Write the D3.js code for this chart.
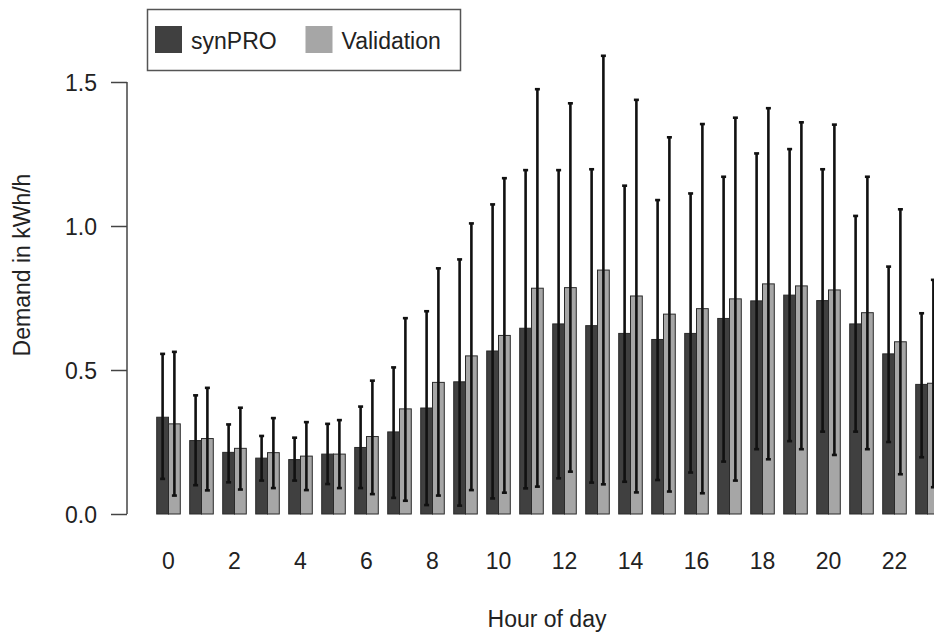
<!DOCTYPE html>
<html><head><meta charset="utf-8">
<script src="https://cdn.jsdelivr.net/npm/d3@7"></script>
<style>html,body{margin:0;padding:0;background:#fff;overflow:hidden}</style>
</head><body>
<svg id="c" width="934" height="632"></svg>
<script>
const hours = d3.range(0, 24);
const seriesNames = ["synPRO", "Validation"];
const synMean = [0.336,0.255,0.214,0.194,0.189,0.208,0.231,0.285,0.368,0.459,0.566,0.645,0.660,0.654,0.627,0.606,0.627,0.679,0.740,0.760,0.741,0.660,0.556,0.450];
const synLow  = [0.122,0.100,0.110,0.116,0.116,0.104,0.090,0.056,0.031,0.029,0.054,0.089,0.124,0.109,0.112,0.118,0.144,0.182,0.225,0.253,0.286,0.286,0.250,0.197];
const synHigh = [0.556,0.412,0.311,0.271,0.265,0.313,0.373,0.509,0.704,0.884,1.075,1.194,1.194,1.197,1.140,1.090,1.113,1.171,1.252,1.267,1.197,1.035,0.859,0.697];
const valMean = [0.313,0.262,0.228,0.213,0.201,0.208,0.269,0.365,0.457,0.549,0.620,0.784,0.786,0.847,0.757,0.694,0.713,0.747,0.799,0.792,0.778,0.699,0.598,0.454];
const valLow  = [0.064,0.082,0.085,0.090,0.083,0.090,0.069,0.046,0.064,0.083,0.074,0.095,0.147,0.103,0.075,0.078,0.072,0.116,0.190,0.225,0.205,0.225,0.138,0.093];
const valHigh = [0.563,0.438,0.369,0.333,0.319,0.326,0.463,0.680,0.853,1.009,1.166,1.475,1.426,1.591,1.438,1.308,1.354,1.376,1.409,1.360,1.352,1.171,1.058,0.813];
const yTicks = [0, 0.5, 1.0, 1.5];
const xTickLabels = [0,2,4,6,8,10,12,14,16,18,20,22];
const colors = ["#404040", "#a6a6a6"];

const svg = d3.select("#c");
const font = "'Liberation Sans', Arial, Helvetica, sans-serif";
const fs = 23;

const x = d3.scaleLinear().domain([0, 23]).range([168.5, 168.5 + 23 * 33.0]);
const y = d3.scaleLinear().domain([0, 1.5]).range([514, 82]);
const pitch = x(1) - x(0);
const bw = pitch / 2.8;

const series = [
  {name: seriesNames[0], mean: synMean, lo: synLow, hi: synHigh, off: -0.5, color: colors[0]},
  {name: seriesNames[1], mean: valMean, lo: valLow, hi: valHigh, off: 0.5, color: colors[1]}
];

const g = svg.append("g");
// bars
series.forEach(s => {
  g.selectAll(null).data(hours).enter().append("rect")
    .attr("x", h => x(h) + s.off * bw - bw / 2)
    .attr("y", h => y(s.mean[h]))
    .attr("width", bw)
    .attr("height", h => y(0) - y(s.mean[h]))
    .attr("fill", s.color)
    .attr("stroke", "#2a2a2a")
    .attr("stroke-width", 1);
});
// error bars
series.forEach(s => {
  const eg = g.append("g").attr("stroke", "#111").attr("stroke-width", 2.6).attr("fill", "none");
  hours.forEach(h => {
    const cx = x(h) + s.off * bw;
    eg.append("line").attr("x1", cx).attr("x2", cx).attr("y1", y(s.lo[h])).attr("y2", y(s.hi[h]));
    eg.append("line").attr("x1", cx - 2.5).attr("x2", cx + 2.5).attr("y1", y(s.lo[h])).attr("y2", y(s.lo[h]));
    eg.append("line").attr("x1", cx - 2.5).attr("x2", cx + 2.5).attr("y1", y(s.hi[h])).attr("y2", y(s.hi[h]));
  });
});

// y axis
const yAxis = d3.axisLeft(y).tickValues(yTicks).tickFormat(d3.format(".1f")).tickSizeInner(16).tickSizeOuter(0).tickPadding(14);
const ya = svg.append("g").attr("transform", "translate(127,0)").call(yAxis);
ya.select(".domain").attr("stroke", "#444").attr("stroke-width", 1.5).attr("d", `M0,${y(0)}V${y(1.5)}`);
ya.selectAll(".tick line").attr("stroke", "#444").attr("stroke-width", 1.5);
ya.selectAll(".tick text").attr("font-family", font).attr("font-size", fs).attr("fill", "#222").attr("dy", "0.36em");

// x labels
const xa = svg.append("g");
xa.selectAll("text").data(xTickLabels).enter().append("text")
  .attr("x", d => x(d)).attr("y", 569)
  .attr("text-anchor", "middle").attr("font-family", font).attr("font-size", fs).attr("fill", "#222")
  .text(d => d);

// axis titles
svg.append("text").attr("x", 547).attr("y", 627).attr("text-anchor", "middle")
  .attr("font-family", font).attr("font-size", fs).attr("fill", "#222").text("Hour of day");
svg.append("text").attr("transform", "translate(30,265) rotate(-90)").attr("text-anchor", "middle")
  .attr("font-family", font).attr("font-size", fs).attr("fill", "#222").text("Demand in kWh/h");

// legend
const lg = svg.append("g");
lg.append("rect").attr("x", 147.5).attr("y", 9.5).attr("width", 313).attr("height", 61)
  .attr("fill", "#fff").attr("stroke", "#555").attr("stroke-width", 1.5);
const legX = [155, 305.5];
series.forEach((s, i) => {
  lg.append("rect").attr("x", legX[i]).attr("y", 26).attr("width", 27).attr("height", 27).attr("fill", s.color);
  lg.append("text").attr("x", legX[i] + 36).attr("y", 48.5)
    .attr("font-family", font).attr("font-size", fs).attr("fill", "#222").text(s.name);
});
</script>
</body></html>
